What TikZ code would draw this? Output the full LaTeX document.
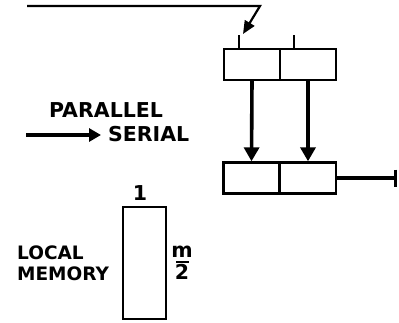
\documentclass[tikz,border=0pt]{standalone}
\usepackage{fontspec}
\setmainfont{DejaVu Sans}
\usetikzlibrary{arrows.meta}
\begin{document}
\begin{tikzpicture}[x=1pt,y=-1pt,
  cell/.style={draw, line width=2.4pt, minimum width=56pt, minimum height=31pt, inner sep=0pt},
  lbl/.style={font=\fontsize{20.5}{23}\selectfont\bfseries, inner sep=0pt},
  small/.style={font=\fontsize{18.5}{21.5}\selectfont\bfseries, inner sep=0pt},
  thin/.style={line width=2.2pt},
  thick/.style={line width=3.6pt},
  tip/.style={-{Triangle[length=14pt,width=15pt]}}
]
\useasboundingbox (0,0) rectangle (399,322);
% upper register
\node[cell] (u1) at (252,64.5) {};
\node[cell] (u2) at (308,64.5) {};
% lower register
\node[cell] (l1) at (251.5,178) {};
\node[cell] (l2) at (308,178) {};
% input line
\coordinate (s) at (27,6);
\coordinate (k) at (260,6);
\coordinate (t) at (243,34);
\draw[thin, line join=miter, -{Triangle[length=13pt,width=11pt]}] (s) -- (k) -- (t);
% ticks
\coordinate (t1) at (239,35);
\coordinate (t2) at (294,35);
\draw[thin] (t1) -- (t1 |- u1.north);
\draw[thin] (t2) -- (t2 |- u2.north);
% vertical transfers
\draw[thick, tip] (u1.south) -- (l1.north);
\draw[thick, tip] (u2.south) -- (l2.north);
% output
\coordinate (o) at (397,178);
\draw[thick, -{Bar[width=17pt,line width=3.2pt]}] (l2.east) -- (o);
% legend
\node[lbl] (par) at (106,110.5) {PARALLEL};
\node[lbl, anchor=west] (ser) at (108,134) {SERIAL};
\coordinate (a0) at (26,135);
\coordinate (a1) at (101,135);
\draw[thick, -{Triangle[length=12pt,width=13pt]}] (a0) -- (a1);
% local memory
\node[draw, line width=2.4pt, minimum width=43pt, minimum height=112pt, inner sep=0pt] (mem) at (144.5,263) {};
\node[lbl] (one) at (140,193) {1};
\node[small, align=left, anchor=west] (lm) at (17,263.5) {LOCAL\\MEMORY};
\node[lbl] (m) at (182,252) {m};
\node[lbl] (two) at (182,272) {2};
\draw[line width=2.2pt] (176,262) -- (189,262);
\end{tikzpicture}
\end{document}
